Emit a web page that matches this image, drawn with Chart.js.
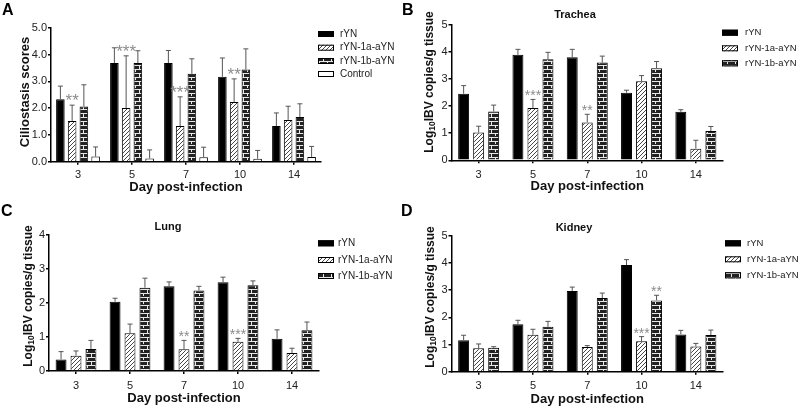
<!DOCTYPE html>
<html>
<head>
<meta charset="utf-8">
<script src="https://cdn.jsdelivr.net/npm/chart.js@4.4.1/dist/chart.umd.min.js"></script>
<style>
  html, body { margin: 0; padding: 0; background: #fff; }
  #wrap { position: relative; width: 798px; height: 407px; }
  #wrap canvas { position: absolute; left: 0; top: 0; }
</style>
</head>
<body>
<div id="wrap">
  <canvas id="cA" width="798" height="407"></canvas>
  <canvas id="cB" width="798" height="407"></canvas>
  <canvas id="cC" width="798" height="407"></canvas>
  <canvas id="cD" width="798" height="407"></canvas>
</div>
<script>
// ---- data ----
const days = ['3', '5', '7', '10', '14'];
const groupNames = ['rYN', 'rYN-1a-aYN', 'rYN-1b-aYN', 'Control'];

// A: ciliostasis scores
const cilYN = [2.33, 3.68, 3.68, 3.17, 1.33];
const cilYNErr = [0.49, 0.57, 0.47, 0.70, 0.49];
const cil1a = [1.52, 2.00, 1.33, 2.23, 1.56];
const cil1aErr = [0.59, 1.95, 1.09, 0.86, 0.51];
const cil1b = [2.06, 3.68, 3.28, 3.44, 1.67];
const cil1bErr = [0.81, 0.46, 0.56, 0.77, 0.49];
const cilCtrl = [0.19, 0.12, 0.17, 0.11, 0.18];
const cilCtrlErr = [0.36, 0.32, 0.37, 0.31, 0.39];
const cil1aStars = ['**', '***', '***', '**', ''];

// B: trachea, log10 IBV copies/g
const traYN = [2.46, 3.90, 3.81, 2.50, 1.79];
const traYNErr = [0.30, 0.20, 0.29, 0.09, 0.08];
const tra1a = [1.03, 1.93, 1.40, 2.92, 0.43];
const tra1aErr = [0.23, 0.32, 0.30, 0.21, 0.31];
const tra1b = [1.80, 3.73, 3.61, 3.40, 1.08];
const tra1bErr = [0.24, 0.26, 0.24, 0.25, 0.17];
const tra1aStars = ['', '***', '**', '', ''];

// C: lung
const lungYN = [0.34, 2.04, 2.49, 2.61, 0.95];
const lungYNErr = [0.23, 0.10, 0.13, 0.15, 0.26];
const lung1a = [0.45, 1.11, 0.64, 0.86, 0.53];
const lung1aErr = [0.14, 0.27, 0.26, 0.10, 0.14];
const lung1b = [0.65, 2.45, 2.37, 2.52, 1.20];
const lung1bErr = [0.25, 0.28, 0.12, 0.13, 0.24];
const lung1aStars = ['', '', '**', '***', ''];

// D: kidney
const kidYN = [1.16, 1.74, 2.97, 3.92, 1.37];
const kidYNErr = [0.18, 0.15, 0.14, 0.20, 0.15];
const kid1a = [0.86, 1.36, 0.91, 1.12, 0.93];
const kid1aErr = [0.16, 0.20, 0.05, 0.17, 0.11];
const kid1b = [0.88, 1.65, 2.71, 2.62, 1.35];
const kid1bErr = [0.04, 0.20, 0.18, 0.19, 0.18];
const kid1aStars = ['', '', '', '***', ''];
const kid1bStars = ['', '', '', '**', ''];

const FONT = "'Liberation Sans', Arial, Helvetica, sans-serif";
Chart.defaults.font.family = FONT;
Chart.defaults.color = '#222';

// fill patterns (hatched and brick, like the Prism bars)
function hatchPattern() {
  const c = document.createElement('canvas');
  c.width = 4; c.height = 4;
  const g = c.getContext('2d');
  g.fillStyle = '#fff';
  g.fillRect(0, 0, 4, 4);
  g.strokeStyle = '#333';
  g.lineWidth = 0.9;
  g.beginPath();
  g.moveTo(-1, 1); g.lineTo(1, -1);
  g.moveTo(0, 4); g.lineTo(4, 0);
  g.moveTo(3, 5); g.lineTo(5, 3);
  g.stroke();
  return g.createPattern(c, 'repeat');
}
function brickPattern() {
  const c = document.createElement('canvas');
  c.width = 8; c.height = 8;
  const g = c.getContext('2d');
  g.fillStyle = '#222';
  g.fillRect(0, 0, 8, 8);
  g.fillStyle = '#e8e8e8';
  g.fillRect(0, 1, 8, 1);
  g.fillRect(0, 5, 8, 1);
  g.fillRect(3, 1, 1, 4);
  g.fillRect(7, 5, 1, 4);
  return g.createPattern(c, 'repeat');
}
const fillYN = '#000';
const fill1a = hatchPattern();
const fill1b = brickPattern();
const fillCtrl = '#fff';

// y title pieces; the "10" of Log10 is set as a subscript
const cilTitle = [{ t: 'Ciliostasis scores', size: 13, dy: 0 }];
const logTitle = [
  { t: 'Log', size: 12, dy: 0 },
  { t: '10', size: 8.5, dy: 3 },
  { t: 'IBV copies/g tissue', size: 12, dy: 0 }
];

// error whiskers, stars, legend, titles and panel letter
const panelDecor = {
  id: 'panelDecor',
  afterDatasetsDraw(chart, args, o) {
    const ctx = chart.ctx;
    const yScale = chart.scales.y;
    chart.data.datasets.forEach((ds, i) => {
      const meta = chart.getDatasetMeta(i);
      meta.data.forEach((bar, j) => {
        const yTop = yScale.getPixelForValue(ds.data[j] + ds.errors[j]);
        ctx.save();
        ctx.strokeStyle = '#555';
        ctx.lineWidth = 1;
        ctx.beginPath();
        ctx.moveTo(bar.x, bar.y);
        ctx.lineTo(bar.x, yTop);
        ctx.moveTo(bar.x - 2.5, yTop);
        ctx.lineTo(bar.x + 2.5, yTop);
        ctx.stroke();
        if (ds.stars && ds.stars[j]) {
          ctx.fillStyle = '#8c8c8c';
          ctx.font = o.starSize + 'px ' + FONT;
          ctx.textAlign = 'center';
          ctx.textBaseline = 'alphabetic';
          ctx.fillText(ds.stars[j], bar.x, yTop + 1);
        }
        ctx.restore();
      });
    });
  },
  afterDraw(chart, args, o) {
    const ctx = chart.ctx;
    ctx.save();
    // legend
    chart.data.datasets.forEach((ds, i) => {
      const cy = o.legendY[i];
      ctx.fillStyle = ds.backgroundColor;
      ctx.fillRect(o.legendX, cy - 3, 16, 6);
      ctx.strokeStyle = '#000';
      ctx.lineWidth = 1;
      ctx.strokeRect(o.legendX + 0.5, cy - 2.5, 15, 5);
      ctx.fillStyle = '#222';
      ctx.font = o.legendFont + 'px ' + FONT;
      ctx.textAlign = 'left';
      ctx.textBaseline = 'middle';
      ctx.fillText(ds.label, o.labelX, cy);
    });
    // y axis title, rotated
    ctx.save();
    ctx.translate(o.yTitleX, o.yTitleY);
    ctx.rotate(-Math.PI / 2);
    ctx.fillStyle = '#111';
    ctx.textBaseline = 'middle';
    ctx.textAlign = 'left';
    let total = 0;
    o.yTitle.forEach(p => {
      ctx.font = 'bold ' + p.size + 'px ' + FONT;
      total += ctx.measureText(p.t).width;
    });
    let x = -total / 2;
    o.yTitle.forEach(p => {
      ctx.font = 'bold ' + p.size + 'px ' + FONT;
      ctx.fillText(p.t, x, p.dy);
      x += ctx.measureText(p.t).width;
    });
    ctx.restore();
    // panel title
    if (o.title) {
      ctx.fillStyle = '#111';
      ctx.font = 'bold 11px ' + FONT;
      ctx.textAlign = 'center';
      ctx.textBaseline = 'middle';
      ctx.fillText(o.title, o.titleX, o.titleY);
    }
    // panel letter
    ctx.fillStyle = '#000';
    ctx.font = 'bold 16px ' + FONT;
    ctx.textAlign = 'left';
    ctx.textBaseline = 'top';
    ctx.fillText(o.letter, o.letterX, o.letterY);
    ctx.restore();
  }
};

function makeDataset(label, data, errors, fill, stars) {
  return {
    label: label,
    data: data,
    errors: errors,
    stars: stars || null,
    backgroundColor: fill,
    borderColor: '#000',
    borderWidth: 1
  };
}

const W = 798, H = 407, YW = 46;

function makePanel(canvasId, g, datasets, yMax, yDecimals, catPct) {
  const xh = g.xTitleY - g.bottom + 6.5;
  return new Chart(document.getElementById(canvasId), {
    type: 'bar',
    data: { labels: days, datasets: datasets },
    options: {
      responsive: false,
      animation: false,
      events: [],
      categoryPercentage: catPct,
      barPercentage: 0.73,
      layout: {
        padding: {
          left: g.left - YW,
          right: W - g.right,
          top: g.top,
          bottom: H - g.bottom - xh
        }
      },
      plugins: {
        legend: { display: false },
        tooltip: { enabled: false },
        panelDecor: g
      },
      scales: {
        x: {
          afterFit(scale) { scale.height = xh; },
          border: { color: '#000', width: 1.5 },
          grid: { display: true, drawOnChartArea: false, offset: false, color: '#000', tickLength: 3, lineWidth: 1.5 },
          ticks: { color: '#222', font: { size: 11 }, padding: g.xTickPad },
          title: {
            display: true, text: 'Day post-infection', color: '#111',
            font: { size: 13, weight: 'bold', lineHeight: 1 },
            padding: { top: 0, bottom: 0 }
          }
        },
        y: {
          min: 0, max: yMax,
          afterFit(scale) { scale.width = YW; },
          border: { color: '#000', width: 1.5 },
          grid: { display: true, drawOnChartArea: false, color: '#000', tickLength: 3, lineWidth: 1.5 },
          ticks: {
            stepSize: 1, color: '#222', font: { size: 11 }, padding: 1,
            callback: (v) => v.toFixed(yDecimals)
          },
          title: { display: false }
        }
      }
    },
    plugins: [panelDecor]
  });
}

makePanel('cA', {
  left: 51, right: 321, top: 27.7, bottom: 161.7, xTitleY: 187, xTickPad: 4,
  yTitle: cilTitle, yTitleX: 25, yTitleY: 92, starSize: 17,
  letter: 'A', letterX: 2, letterY: 3,
  legendX: 318, labelX: 340, legendY: [34, 47.7, 61, 74], legendFont: 10
}, [
  makeDataset(groupNames[0], cilYN, cilYNErr, fillYN),
  makeDataset(groupNames[1], cil1a, cil1aErr, fill1a, cil1aStars),
  makeDataset(groupNames[2], cil1b, cil1bErr, fill1b),
  makeDataset(groupNames[3], cilCtrl, cilCtrlErr, fillCtrl)
], 5, 1, 0.87);

makePanel('cB', {
  left: 451.5, right: 723, top: 25, bottom: 160.3, xTitleY: 186.7, xTickPad: 5,
  yTitle: logTitle, yTitleX: 429.5, yTitleY: 82, starSize: 14,
  letter: 'B', letterX: 402, letterY: 3, title: 'Trachea', titleX: 575, titleY: 15,
  legendX: 722, labelX: 745, legendY: [32.7, 48.3, 63.3], legendFont: 9.5
}, [
  makeDataset(groupNames[0], traYN, traYNErr, fillYN),
  makeDataset(groupNames[1], tra1a, tra1aErr, fill1a, tra1aStars),
  makeDataset(groupNames[2], tra1b, tra1bErr, fill1b)
], 5, 0, 0.83);

makePanel('cC', {
  left: 49, right: 319, top: 235, bottom: 371, xTitleY: 398, xTickPad: 5,
  yTitle: logTitle, yTitleX: 29, yTitleY: 296, starSize: 14,
  letter: 'C', letterX: 1, letterY: 204, title: 'Lung', titleX: 168, titleY: 227,
  legendX: 318, labelX: 338, legendY: [243.3, 260, 276], legendFont: 10
}, [
  makeDataset(groupNames[0], lungYN, lungYNErr, fillYN),
  makeDataset(groupNames[1], lung1a, lung1aErr, fill1a, lung1aStars),
  makeDataset(groupNames[2], lung1b, lung1bErr, fill1b)
], 4, 0, 0.83);

makePanel('cD', {
  left: 451.5, right: 723, top: 235.7, bottom: 371.7, xTitleY: 399, xTickPad: 5,
  yTitle: logTitle, yTitleX: 430.5, yTitleY: 297, starSize: 14,
  letter: 'D', letterX: 401, letterY: 204, title: 'Kidney', titleX: 574, titleY: 228,
  legendX: 725, labelX: 747, legendY: [243.3, 259.3, 275.3], legendFont: 9.5
}, [
  makeDataset(groupNames[0], kidYN, kidYNErr, fillYN),
  makeDataset(groupNames[1], kid1a, kid1aErr, fill1a, kid1aStars),
  makeDataset(groupNames[2], kid1b, kid1bErr, fill1b, kid1bStars)
], 5, 0, 0.83);
</script>
</body>
</html>
